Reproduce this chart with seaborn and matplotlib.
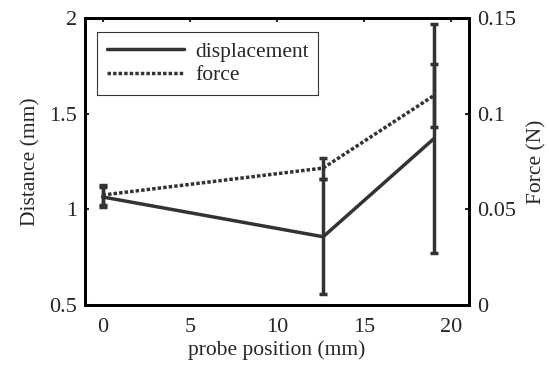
import numpy as np
import pandas as pd
import seaborn as sns
import matplotlib.pyplot as plt

# probe positions (mm)
position = [0, 12.65, 19]
# displacement (mm) with error
displacement = [1.065, 0.857, 1.37]
disp_err = [0.05, 0.30, 0.60]
# force (N) with error
force = [0.0575, 0.0716, 0.1095]
force_err = [0.005, 0.0055, 0.0165]

df = pd.DataFrame({'position': position, 'displacement': displacement,
                   'disp_err': disp_err, 'force': force, 'force_err': force_err})

sns.set_style("white")
plt.rcParams['font.family'] = ['Liberation Serif', 'DejaVu Serif']

line_col = '#333333'

fig = plt.figure(figsize=(5.49, 3.68), dpi=100)
ax = fig.add_axes([0.155, 0.171, 0.699, 0.780])
ax2 = ax.twinx()

sns.lineplot(data=df, x='position', y='displacement', ax=ax, color=line_col,
             linewidth=2.5, label='displacement', legend=False)
ax.errorbar(df['position'], df['displacement'], yerr=df['disp_err'], fmt='none',
            ecolor=line_col, elinewidth=2.5, capsize=3, capthick=2.5)

sns.lineplot(data=df, x='position', y='force', ax=ax2, color=line_col,
             linewidth=2.5, linestyle=(0, (1, 0.6)), label='force', legend=False)
ax2.errorbar(df['position'], df['force'], yerr=df['force_err'], fmt='none',
             ecolor=line_col, elinewidth=2.5, capsize=3, capthick=2.5)

ax.set_xlim(-1, 21)
ax.set_ylim(0.5, 2)
ax2.set_ylim(0, 0.15)
ax.set_xticks([0, 5, 10, 15, 20])
ax.set_yticks([0.5, 1, 1.5, 2])
ax.set_yticklabels(['0.5', '1', '1.5', '2'])
ax2.set_yticks([0, 0.05, 0.1, 0.15])
ax2.set_yticklabels(['0', '0.05', '0.1', '0.15'])

ax.set_xlabel('probe position (mm)', fontsize=15.5, labelpad=3)
ax.set_ylabel('Distance (mm)', fontsize=15.5, labelpad=6)
ax2.set_ylabel('Force (N)', fontsize=15.5, labelpad=8)

for a in (ax, ax2):
    for s in a.spines.values():
        s.set_linewidth(2)
        s.set_color('black')
        s.set_visible(True)
    a.grid(False)
ax.tick_params(axis='both', direction='in', length=3, width=1.5, top=True,
               labelsize=16, pad=6)
ax.tick_params(axis='x', pad=9)
ax.tick_params(axis='y', right=False)
ax2.tick_params(axis='y', direction='in', length=3, width=1.5, labelsize=16, pad=6)

h1, l1 = ax.get_legend_handles_labels()
h2, l2 = ax2.get_legend_handles_labels()
leg = ax.legend(h1 + h2, l1 + l2, loc='upper left', bbox_to_anchor=(0.031, 0.951),
                borderaxespad=0, fontsize=15.5, frameon=True, fancybox=False,
                edgecolor='black', handlelength=3.6, handletextpad=0.5,
                borderpad=0.45, labelspacing=0.15)
leg.get_frame().set_linewidth(0.8)

fig.savefig('out.png', dpi=100)
